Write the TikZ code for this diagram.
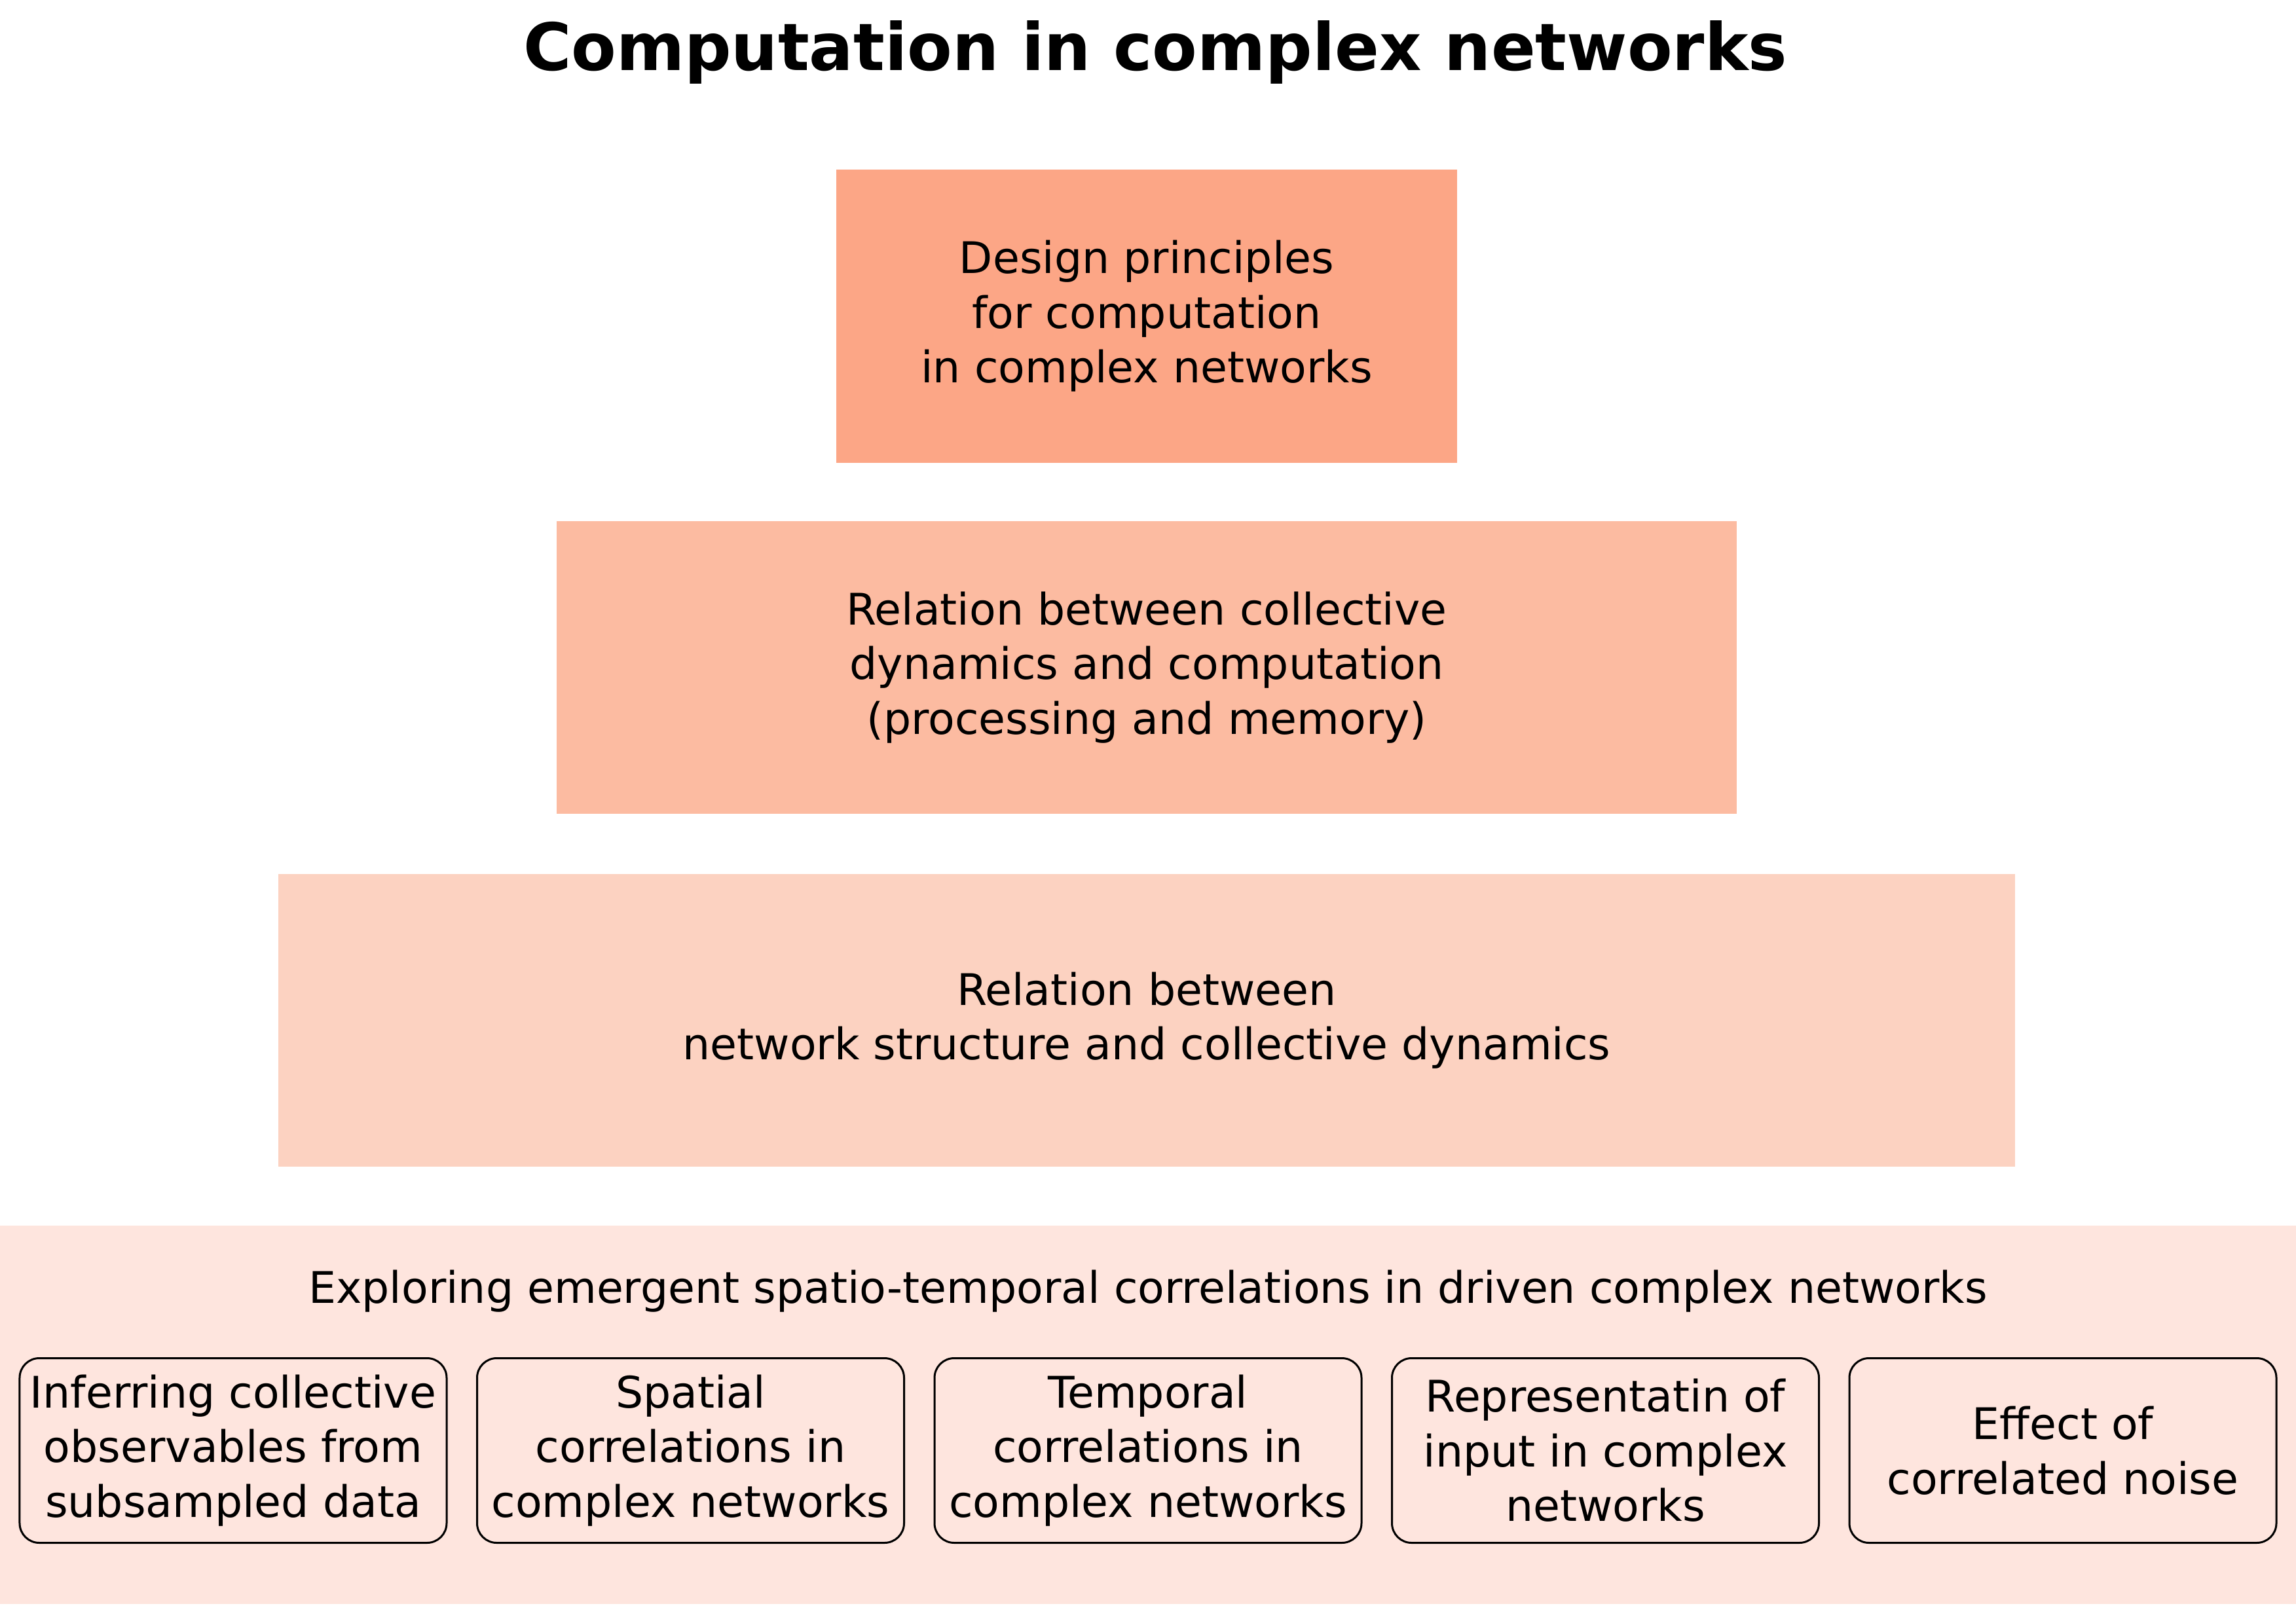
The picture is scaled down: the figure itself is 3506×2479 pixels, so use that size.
\documentclass[tikz,border=0pt]{standalone}
\usepackage{fontspec}
\setmainfont{DejaVu Sans}
\definecolor{cTop}{HTML}{FCA686}
\definecolor{cMid}{HTML}{FCBBA1}
\definecolor{cLow}{HTML}{FCD2C1}
\definecolor{cBand}{HTML}{FEE5DE}
\begin{document}
\begin{tikzpicture}[x=0.2pt,y=-0.2pt,
  txt/.style={font=\fontsize{13.3}{16.7}\selectfont, align=center, text=black},
  tier/.style={txt, inner sep=0pt, draw=none},
  subbox/.style={txt, draw=black, line width=0.6pt, rounded corners=6pt,
    minimum width=130.4pt, minimum height=56.4pt, inner sep=0pt}]
\useasboundingbox (0,0) rectangle (3506,2479);
\fill[white] (0,0) rectangle (3506,2479);
\node[font=\fontsize{20}{24}\selectfont\bfseries] (title) at (1764,80) {Computation in complex networks};
\node[tier, fill=cTop, minimum width=189.6pt, minimum height=89.6pt] (top) at (1751,483)
  {Design principles\\for computation\\in complex networks};
\node[tier, fill=cMid, minimum width=360.4pt, minimum height=89.4pt] (mid) at (1751,1019.5)
  {Relation between collective\\dynamics and computation\\(processing and memory)};
\node[tier, fill=cLow, minimum width=530.4pt, minimum height=89.4pt] (low) at (1751,1558.5)
  {Relation between\\network structure and collective dynamics};
\node[tier, fill=cBand, minimum width=701.2pt, minimum height=115.6pt] (band) at (1753,2161) {};
\node[txt] (head) at (1753,1972) {Exploring emergent spatio-temporal correlations in driven complex networks};
\node[subbox] (s1) at (356,2215.5) {Inferring collective\\observables from\\subsampled data};
\node[subbox] (s2) at (1054.5,2215.5) {Spatial\\correlations in\\complex networks};
\node[subbox] (s3) at (1753,2215.5) {Temporal\\correlations in\\complex networks};
\node[subbox] (s4) at (2451.5,2215.5) {Representatin of\\input in complex\\networks};
\node[subbox] (s5) at (3150,2215.5) {Effect of\\correlated noise};
\end{tikzpicture}
\end{document}
